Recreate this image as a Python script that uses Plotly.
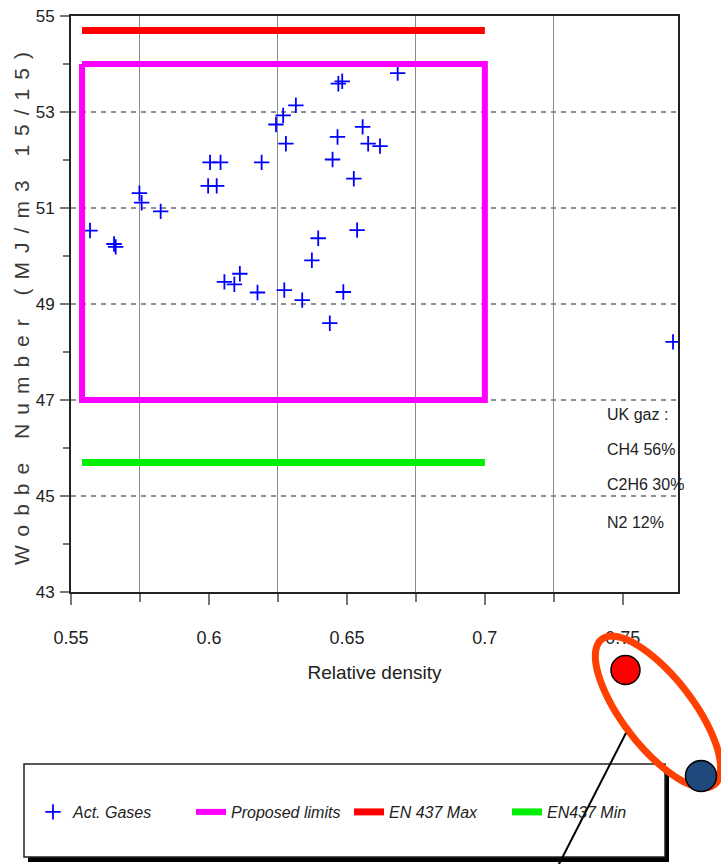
import numpy as np
import plotly.graph_objects as go

# ---------------- data ----------------
gas_density = [0.5569, 0.5656, 0.5662, 0.5748, 0.5756, 0.5825, 0.5997, 0.6028, 0.6004, 0.6042,
               0.6056, 0.6092, 0.6112, 0.6176, 0.6191, 0.6243, 0.6269, 0.6279, 0.6273, 0.6315,
               0.6338, 0.6438, 0.6373, 0.6396, 0.6448, 0.6466, 0.6469, 0.6483, 0.6487, 0.6525,
               0.6537, 0.6557, 0.6577, 0.6620, 0.6684, 0.7682]
gas_wobbe = [50.53, 50.25, 50.19, 51.31, 51.11, 50.93, 51.46, 51.46, 51.95, 51.95,
             49.46, 49.41, 49.63, 49.24, 51.95, 52.74, 52.93, 52.34, 49.29, 53.14,
             49.08, 48.60, 49.91, 50.37, 52.01, 52.48, 53.59, 53.64, 49.25, 51.61,
             50.54, 52.69, 52.34, 52.29, 53.81, 48.21]

limits_density = [0.554, 0.700, 0.700, 0.554, 0.554]
limits_wobbe = [54.0, 54.0, 47.0, 47.0, 54.0]

en_max_density = [0.554, 0.700]
en_max_wobbe = [54.7, 54.7]
en_min_density = [0.554, 0.700]
en_min_wobbe = [45.7, 45.7]

x_major_ticks = [0.55, 0.60, 0.65, 0.70, 0.75]
x_major_labels = ["0.55", "0.6", "0.65", "0.7", "0.75"]
x_minor_ticks = [0.575, 0.625, 0.675, 0.725]
y_major_ticks = [43, 45, 47, 49, 51, 53, 55]
y_minor_ticks = [44, 46, 48, 50, 52, 54]

uk_gas_lines = ["UK gaz :", "CH4 56%", "C2H6 30%", "N2 12%"]

# ---------------- layout geometry (pixels) ----------------
W, H = 721, 864
L, R, T, B = 71, 678, 16, 592
PW, PH = R - L, B - T

def px(xp):
    return (xp - L) / PW

def py(yp):
    return (B - yp) / PH

FONT = "Liberation Sans, Arial, sans-serif"

fig = go.Figure()
fig.add_trace(go.Scatter(x=gas_density, y=gas_wobbe, mode="markers", name="Act. Gases",
                         marker=dict(symbol="cross-thin", size=11, color="#0000ff",
                                     line=dict(color="#0000ff", width=1.8))))
fig.add_trace(go.Scatter(x=limits_density, y=limits_wobbe, mode="lines", name="Proposed limits",
                         line=dict(color="#ff00ff", width=6)))
fig.add_trace(go.Scatter(x=en_max_density, y=en_max_wobbe, mode="lines", name="EN 437 Max",
                         line=dict(color="#ff0000", width=7)))
fig.add_trace(go.Scatter(x=en_min_density, y=en_min_wobbe, mode="lines", name="EN437 Min",
                         line=dict(color="#00ee00", width=7)))

shapes = []
# white box behind the UK gas note (hides grid)
shapes.append(dict(type="rect", xref="paper", yref="paper", layer="between",
                   x0=px(604), x1=px(676), y0=py(540), y1=py(396),
                   fillcolor="white", line=dict(width=0)))
# legend frame with shadow
shapes.append(dict(type="rect", xref="paper", yref="paper",
                   x0=px(28), x1=px(669), y0=py(862), y1=py(768),
                   fillcolor="black", line=dict(width=0)))
shapes.append(dict(type="rect", xref="paper", yref="paper",
                   x0=px(24), x1=px(665), y0=py(857), y1=py(764),
                   fillcolor="white", line=dict(color="#222222", width=1.5)))
# tilted ellipse
cx, cy, a, b = 658, 712, 92, 35
u = np.array([0.61, 0.79]); u = u / np.linalg.norm(u)
v = np.array([u[1], -u[0]])
t = np.linspace(0, 2 * np.pi, 73)
ex = cx + a * np.cos(t) * u[0] + b * np.sin(t) * v[0]
ey = cy + a * np.cos(t) * u[1] + b * np.sin(t) * v[1]
path = "M " + " L ".join(f"{px(xx):.5f},{py(yy):.5f}" for xx, yy in zip(ex, ey)) + " Z"
shapes.append(dict(type="path", xref="paper", yref="paper", path=path,
                   line=dict(color="#ff4000", width=7)))
# red and blue dots
for (ccx, ccy, r, col) in [(625.5, 670, 14.5, "#ff0000"), (701, 776, 15.5, "#1f497d")]:
    shapes.append(dict(type="circle", xref="paper", yref="paper",
                       x0=px(ccx - r), x1=px(ccx + r), y0=py(ccy + r), y1=py(ccy - r),
                       fillcolor=col, line=dict(color="black", width=1.5)))
# pointer line
shapes.append(dict(type="line", xref="paper", yref="paper",
                   x0=px(626), y0=py(733), x1=px(558), y1=py(866),
                   line=dict(color="black", width=2)))

annotations = []
for txt, yy in zip(uk_gas_lines, [415, 449, 484, 522]):
    annotations.append(dict(text=txt, xref="paper", yref="paper", x=px(605), y=py(yy),
                            xanchor="left", yanchor="middle", showarrow=False,
                            font=dict(family=FONT, size=16, color="#222222")))

fig.update_layout(
    width=W, height=H,
    margin=dict(l=L, r=W - R, t=T, b=H - B, autoexpand=False),
    paper_bgcolor="white", plot_bgcolor="white",
    showlegend=True,
    legend=dict(orientation="h", xref="paper", yref="paper",
                x=px(33), xanchor="left", y=py(812), yanchor="middle",
                entrywidth=113, entrywidthmode="pixels",
                bgcolor="rgba(0,0,0,0)", borderwidth=0,
                font=dict(family=FONT, size=16, color="#222222", style="italic")),
    shapes=shapes,
    annotations=annotations,
    xaxis=dict(range=[0.55, 0.77], tickvals=x_major_ticks, ticktext=x_major_labels,
               ticks="outside", ticklen=11, tickcolor="#777777", tickwidth=1.5,
               showgrid=False, zeroline=False,
               showline=True, linecolor="#222222", linewidth=2, mirror=True,
               ticklabelstandoff=17,
               tickfont=dict(family=FONT, size=18, color="#222222"),
               minor=dict(tickvals=x_minor_ticks, ticks="outside", ticklen=8,
                          tickcolor="#777777", tickwidth=1.5,
                          showgrid=True, gridcolor="#8a8a8a", gridwidth=1.2),
               title=dict(text="Relative density", standoff=19,
                          font=dict(family=FONT, size=19, color="#222222"))),
    yaxis=dict(range=[43, 55], tickvals=y_major_ticks,
               ticks="outside", ticklen=9, tickcolor="#777777", tickwidth=1.5,
               showgrid=True, gridcolor="#8f8f8f", gridwidth=1.5, griddash="5px,5px",
               zeroline=False,
               showline=True, linecolor="#222222", linewidth=2, mirror=True,
               ticklabelstandoff=2,
               tickfont=dict(family=FONT, size=17, color="#222222"),
               minor=dict(tickvals=y_minor_ticks, ticks="outside", ticklen=6,
                          tickcolor="#777777", tickwidth=1.5, showgrid=False),
               title=dict(text='<span style="letter-spacing:9px">Wobbe Number (MJ/m3 15/15)</span>',
                          standoff=0,
                          font=dict(family=FONT, size=21, color="#3a3a3a"))),
)

fig.write_html("out.html", config={"displayModeBar": False},
               post_script="document.body.style.margin='0px';")
